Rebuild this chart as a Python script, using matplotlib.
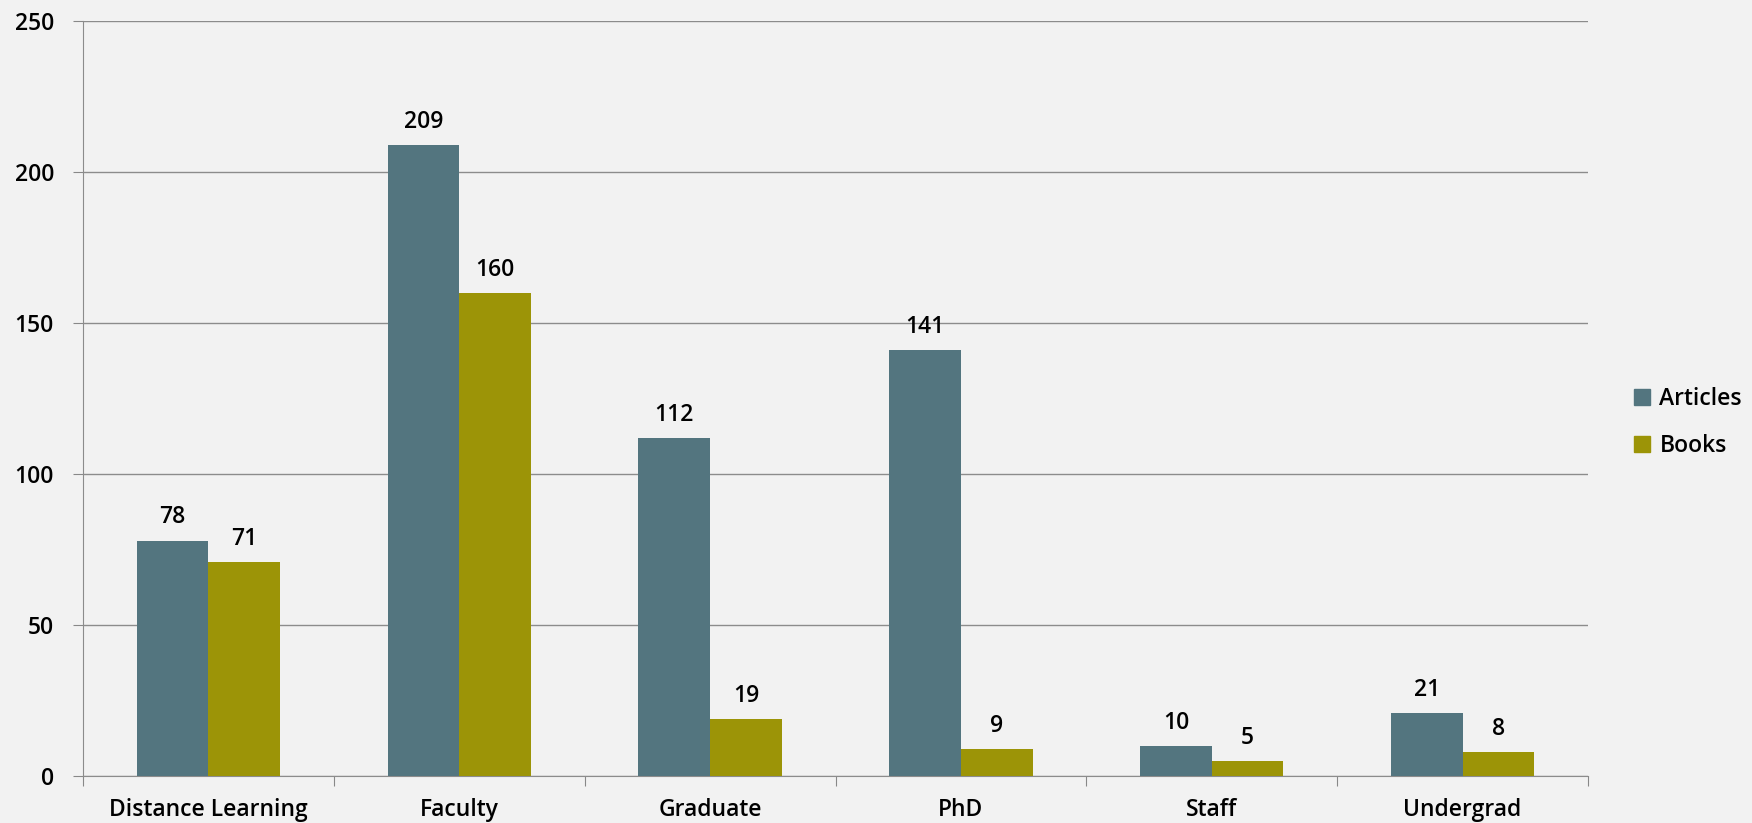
import numpy as np
import matplotlib.pyplot as plt
from matplotlib.patches import Patch

# Requests by patron type
categories = ['Distance Learning', 'Faculty', 'Graduate', 'PhD', 'Staff', 'Undergrad']
articles = [78, 209, 112, 141, 10, 21]
books = [71, 160, 19, 9, 5, 8]

c_art = '#53757F'
c_book = '#9C9407'
bg = '#F2F2F2'

plt.rcParams['font.family'] = ['Open Sans', 'DejaVu Sans']
fs = 16.5
fw = 'semibold'

fig = plt.figure(figsize=(17.52, 8.23), dpi=100, facecolor=bg)
ax = fig.add_axes([0.0474, 0.0571, 0.859, 0.9168], facecolor=bg)

x = np.arange(len(categories))
w = 1 / 3.5
b1 = ax.bar(x - w / 2, articles, w, color=c_art, zorder=3)
b2 = ax.bar(x + w / 2, books, w, color=c_book, zorder=3)

for bars in (b1, b2):
    for r in bars:
        ax.annotate(f'{int(r.get_height())}', (r.get_x() + r.get_width() / 2, r.get_height()),
                    xytext=(0, 8), textcoords='offset points', ha='center', va='bottom',
                    fontsize=fs, fontweight=fw)

ax.set_xlim(-0.5, len(categories) - 0.5)
ax.set_ylim(0, 250)
ax.set_yticks(range(0, 251, 50))
ax.set_xticks(np.arange(-0.5, len(categories), 1), minor=False)
ax.set_xticklabels([])
ax.set_xticks(x, minor=True)
ax.set_xticklabels(categories, minor=True, fontsize=fs, fontweight=fw)
ax.tick_params(axis='x', which='minor', length=0, pad=16)
ax.tick_params(axis='x', which='major', length=7, color='#888888', direction='out')
ax.tick_params(axis='y', length=7, color='#888888', labelsize=fs, pad=14)
for t in ax.get_yticklabels():
    t.set_fontweight(fw)

ax.grid(axis='y', color='#8C8C8C', linewidth=1, zorder=0)
for s in ['top', 'right']:
    ax.spines[s].set_visible(False)
for s in ['left', 'bottom']:
    ax.spines[s].set_color('#8C8C8C')

handles = [Patch(color=c_art, label='Articles'), Patch(color=c_book, label='Books')]
fig.legend(handles=handles, loc='center left', bbox_to_anchor=(0.921, 0.487),
           frameon=False, prop={'size': fs, 'weight': fw}, handlelength=0.7,
           handleheight=0.7, handletextpad=0.4, labelspacing=1.0)

fig.savefig('out.png', dpi=100, facecolor=bg)
